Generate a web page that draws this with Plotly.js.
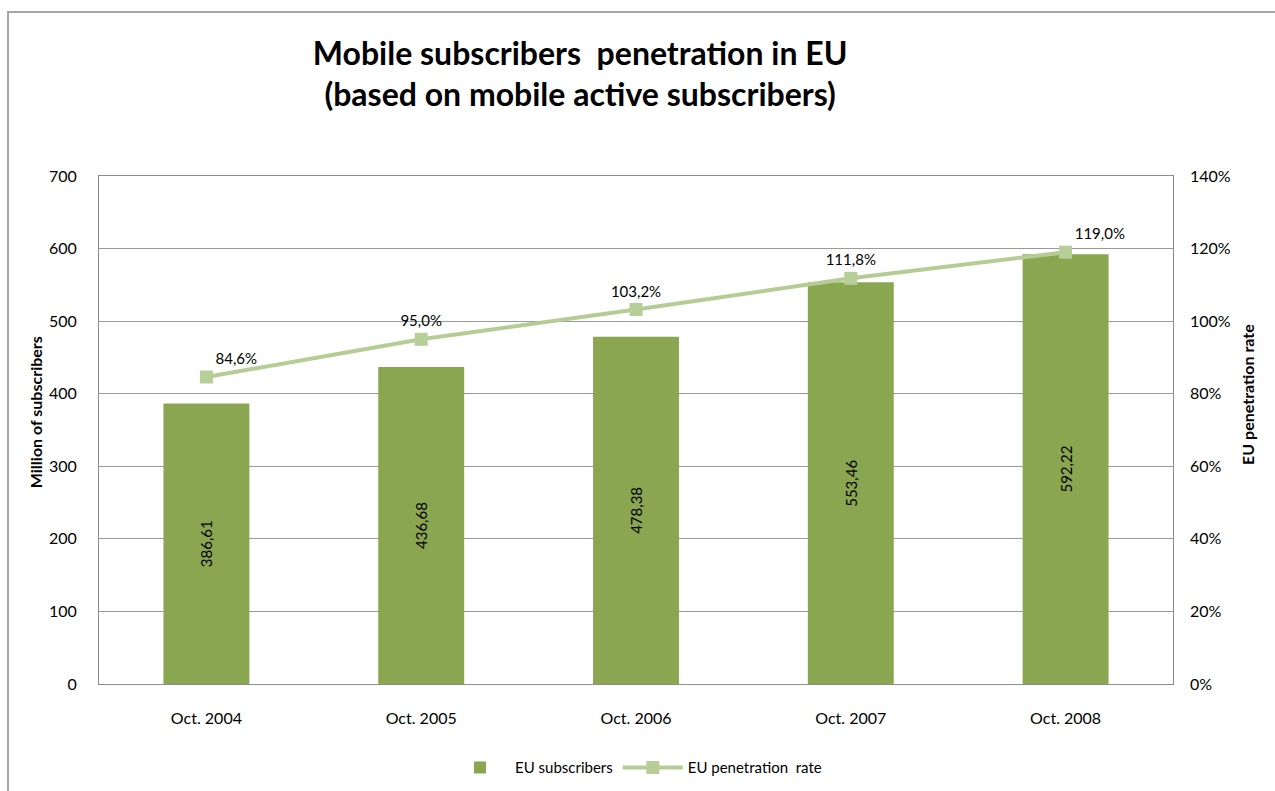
<!DOCTYPE html>
<html>
<head>
<meta charset="utf-8">
<script src="https://cdn.plot.ly/plotly-3.0.1.min.js"></script>
<style>
  html, body { margin: 0; padding: 0; background: #fff; }
  #wrap { position: relative; width: 1275px; height: 791px; overflow: hidden; }
  #frame { position: absolute; left: 7px; top: 11px; width: 1300px; height: 800px;
           border-top: 2px solid #a6a6a6; border-left: 2px solid #a6a6a6; pointer-events: none; }
  #chart { position: absolute; left: 0; top: 0; width: 1275px; height: 791px; }
</style>
</head>
<body>
<div id="wrap">
  <div id="chart"></div>
  <div id="frame"></div>
</div>
<script>
const categories = ['Oct. 2004', 'Oct. 2005', 'Oct. 2006', 'Oct. 2007', 'Oct. 2008'];
const subscribers = [386.61, 436.68, 478.38, 553.46, 592.22];
const penetration = [84.6, 95.0, 103.2, 111.8, 119.0];
const subscriberLabels = ['386,61', '436,68', '478,38', '553,46', '592,22'];
const penetrationLabels = ['84,6%', '95,0%', '103,2%', '111,8%', '119,0%'];

const FONT = 'Lato, Carlito, Calibri, "Open Sans", sans-serif';

const barTrace = {
  type: 'bar',
  name: 'EU subscribers',
  x: categories,
  y: subscribers,
  text: subscriberLabels,
  textposition: 'inside',
  insidetextanchor: 'middle',
  textangle: -90,
  constraintext: 'none',
  textfont: { family: FONT, size: 15, color: '#000' },
  marker: { color: '#8ba651' },
  hoverinfo: 'x+y',
  yaxis: 'y'
};

const lineTrace = {
  type: 'scatter',
  mode: 'lines+markers+text',
  name: 'EU penetration  rate',
  x: categories,
  y: penetration,
  text: penetrationLabels,
  textposition: ['top right', 'top center', 'top center', 'top center', 'top right'],
  textfont: { family: FONT, size: 15, color: '#000' },
  line: { color: '#b5cd95', width: 4 },
  marker: { symbol: 'square', size: 13, color: '#b7ce98' },
  cliponaxis: false,
  yaxis: 'y2'
};

const layout = {
  width: 1275,
  height: 791,
  paper_bgcolor: '#fff',
  plot_bgcolor: '#fff',
  font: { family: FONT, size: 15, color: '#000' },
  margin: { l: 99, r: 102, t: 176, b: 107, pad: 0, autoexpand: false },
  title: {
    text: '<b>Mobile subscribers  penetration in EU<br>(based on mobile active subscribers)</b>',
    font: { family: FONT, size: 32, color: '#000' },
    x: 0.455, xanchor: 'center',
    y: 0.918, yanchor: 'middle', yref: 'container'
  },
  bargap: 0.6,
  showlegend: true,
  legend: {
    orientation: 'h',
    x: 0.5, xanchor: 'center',
    y: -0.165, yanchor: 'middle',
    font: { family: FONT, size: 15, color: '#000' },
    itemwidth: 60,
    traceorder: 'normal'
  },
  xaxis: {
    type: 'category',
    automargin: false,
    showline: true, linecolor: '#8c8c8c', linewidth: 1, mirror: true,
    ticks: '', showgrid: false,
    tickfont: { family: FONT, size: 16, color: '#000' },
    ticklabelstandoff: 20
  },
  yaxis: {
    automargin: false,
    range: [0, 700], dtick: 100, tick0: 0,
    showline: true, linecolor: '#8c8c8c', linewidth: 1, mirror: true,
    showgrid: true, gridcolor: '#9a9a9a', gridwidth: 1,
    zeroline: false,
    ticks: '',
    tickfont: { family: FONT, size: 16, color: '#000' },
    ticklabelstandoff: 18
  },
  yaxis2: {
    automargin: false,
    overlaying: 'y', side: 'right',
    range: [0, 140], dtick: 20, tick0: 0,
    ticksuffix: '%',
    showgrid: false, zeroline: false, showline: false,
    ticks: '',
    tickfont: { family: FONT, size: 16, color: '#000' },
    ticklabelstandoff: 16
  },
  annotations: [
    {
      text: '<b>Million of subscribers</b>',
      xref: 'paper', yref: 'paper',
      x: -0.0596, y: 0.535, xanchor: 'center', yanchor: 'middle',
      textangle: -90, showarrow: false,
      font: { family: FONT, size: 16, color: '#000' }
    },
    {
      text: '<b>EU penetration rate</b>',
      xref: 'paper', yref: 'paper',
      x: 1.0698, y: 0.571, xanchor: 'center', yanchor: 'middle',
      textangle: -90, showarrow: false,
      font: { family: FONT, size: 16, color: '#000' }
    }
  ]
};

Plotly.newPlot('chart', [barTrace, lineTrace], layout, { displayModeBar: false, staticPlot: true });
</script>
</body>
</html>
